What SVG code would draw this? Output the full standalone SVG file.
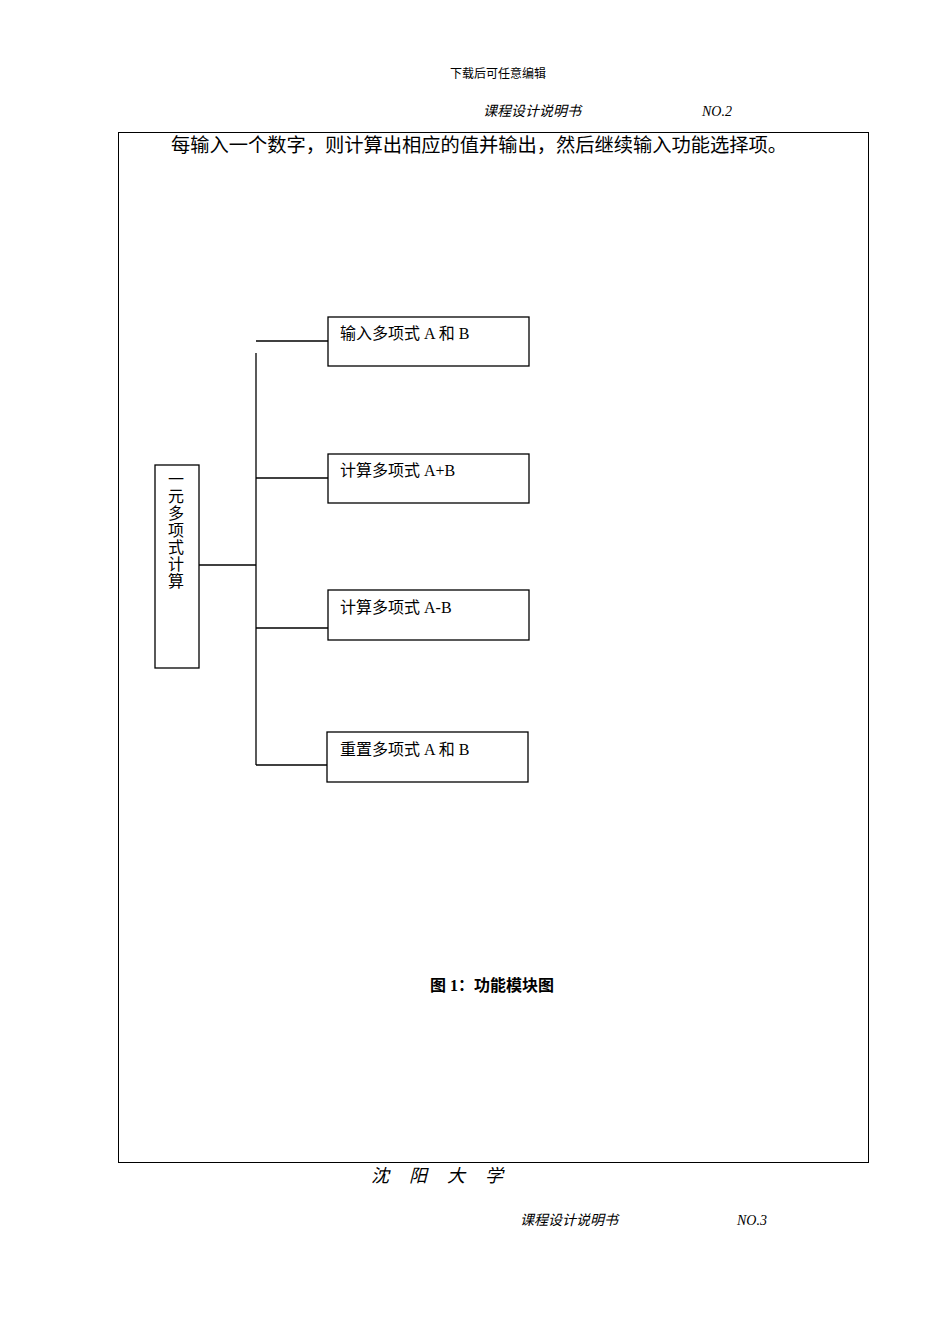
<svg xmlns="http://www.w3.org/2000/svg" width="950" height="1344" viewBox="0 0 950 1344">
<style>
.t{font-family:"Liberation Serif","Noto Sans CJK SC",serif;fill:#000}
.box{fill:#fff;stroke:#000;stroke-width:1.3}
.ln{stroke:#000;stroke-width:1.3;fill:none}
.it{font-style:italic}
</style>
<rect width="950" height="1344" fill="#fff"/>
<text class="t" x="498" y="78" font-size="12" text-anchor="middle">下载后可任意编辑</text>
<text class="t it" x="483" y="116" font-size="14">课程设计说明书</text>
<text class="t it" x="702" y="116" font-size="14">NO.2</text>
<rect x="118.5" y="132.5" width="750" height="1030" fill="none" stroke="#000" stroke-width="1"/>
<text class="t" x="171" y="152" font-size="19.25">每输入一个数字，则计算出相应的值并输出，然后继续输入功能选择项。</text>
<g id="connectors">
<line class="ln" x1="199" y1="565" x2="256" y2="565"/>
<line class="ln" x1="256" y1="353" x2="256" y2="765"/>
<line class="ln" x1="256" y1="341" x2="328" y2="341"/>
<line class="ln" x1="256" y1="478" x2="328" y2="478"/>
<line class="ln" x1="256" y1="628" x2="328" y2="628"/>
<line class="ln" x1="256" y1="765" x2="327" y2="765"/>
</g>
<g id="root">
<rect class="box" x="155" y="465" width="44" height="203"/>
<text class="t" font-size="16" text-anchor="middle">
<tspan x="176" y="485">一</tspan><tspan x="176" y="502">元</tspan><tspan x="176" y="519">多</tspan><tspan x="176" y="536">项</tspan><tspan x="176" y="553">式</tspan><tspan x="176" y="570">计</tspan><tspan x="176" y="587">算</tspan>
</text>
</g>
<g id="n1">
<rect class="box" x="328" y="317" width="201" height="49"/>
<text class="t" x="340" y="339" font-size="16">输入多项式 A 和 B</text>
</g>
<g id="n2">
<rect class="box" x="328" y="454" width="201" height="49"/>
<text class="t" x="340" y="476" font-size="16">计算多项式 A+B</text>
</g>
<g id="n3">
<rect class="box" x="328" y="590" width="201" height="50"/>
<text class="t" x="340" y="613" font-size="16">计算多项式 A-B</text>
</g>
<g id="n4">
<rect class="box" x="327" y="732" width="201" height="50"/>
<text class="t" x="340" y="755" font-size="16">重置多项式 A 和 B</text>
</g>
<text class="t" x="430" y="991" font-size="16" font-weight="bold">图 1：功能模块图</text>
<text class="t it" x="371" y="1182" font-size="18" letter-spacing="20">沈阳大学</text>
<text class="t it" x="520" y="1225" font-size="14">课程设计说明书</text>
<text class="t it" x="737" y="1225" font-size="14">NO.3</text>
</svg>
